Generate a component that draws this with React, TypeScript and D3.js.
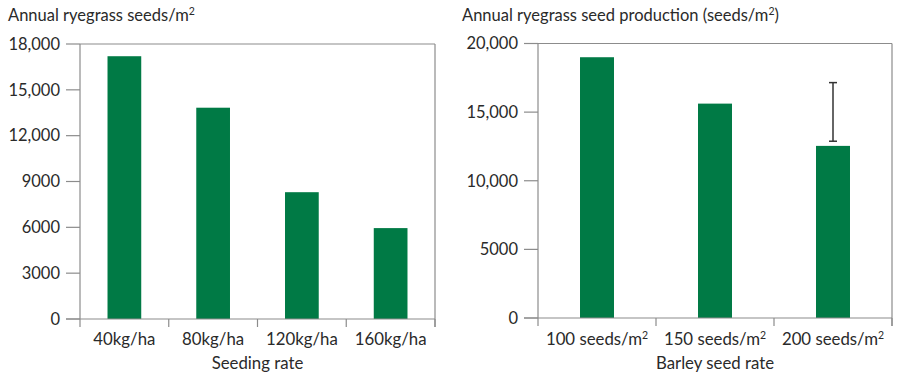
import React from "react";
import * as d3 from "d3";

const leftCategories = ["40kg/ha", "80kg/ha", "120kg/ha", "160kg/ha"];
const leftValues = [17200, 13830, 8300, 5950];
const leftTicks = [0, 3000, 6000, 9000, 12000, 15000, 18000];

const rightCategories = ["100 seeds/m", "150 seeds/m", "200 seeds/m"];
const rightValues = [19000, 15620, 12540];
const rightErrLow = [null, null, 12880];
const rightErrHigh = [null, null, 17150];
const rightTicks = [0, 5000, 10000, 15000, 20000];

const GREEN = "#007a45";
const AXIS = "#8c8c8c";
const TEXT = "#2a2a2a";
const FONT = "Lato, 'Open Sans', sans-serif";

const fmt = (v: number) => (v >= 10000 ? d3.format(",")(v) : String(v));

type PanelProps = {
  x0: number; x1: number; yTop: number; yZero: number; pad: number;
  categories: string[]; values: number[]; ticks: number[]; max: number;
  title: string; titleX: number; xLabel: string; sup: boolean;
  errLow?: (number | null)[]; errHigh?: (number | null)[];
};

function Panel(p: PanelProps) {
  const x = d3.scaleBand<string>().domain(p.categories).range([p.x0, p.x1]).paddingInner(p.pad).paddingOuter(p.pad / 2);
  const xb = d3.scaleBand<string>().domain(p.categories).range([p.x0, p.x1]);
  const y = d3.scaleLinear().domain([0, p.max]).range([p.yZero, p.yTop]);
  return (
    <g fontFamily={FONT} fill={TEXT}>
      <text x={p.titleX} y={21} fontSize={16.5}>
        {p.title}
        <tspan fontSize={10.5} dy={-6}>2</tspan>
        {p.sup ? <tspan dy={6}>)</tspan> : null}
      </text>
      {p.categories.map((c, i) => (
        <rect key={c} x={x(c)} width={x.bandwidth()} y={y(p.values[i])} height={y(0) - y(p.values[i])} fill={GREEN} />
      ))}
      {p.errLow && p.errHigh && p.categories.map((c, i) => {
        const lo = p.errLow![i], hi = p.errHigh![i];
        if (lo == null || hi == null) return null;
        const cx = (x(c) as number) + x.bandwidth() / 2;
        return (
          <g key={"e" + c} stroke="#333" strokeWidth={1.5}>
            <line x1={cx} x2={cx} y1={y(lo)} y2={y(hi)} />
            <line x1={cx - 4} x2={cx + 4} y1={y(lo)} y2={y(lo)} />
            <line x1={cx - 4} x2={cx + 4} y1={y(hi)} y2={y(hi)} />
          </g>
        );
      })}
      <g stroke={AXIS} strokeWidth={1.2} fill="none">
        <line x1={p.x0} x2={p.x1} y1={p.yTop} y2={p.yTop} />
        <line x1={p.x1} x2={p.x1} y1={p.yTop} y2={p.yZero + 8} />
        <line x1={p.x0} x2={p.x0} y1={p.yTop} y2={p.yZero + 8} />
        <line x1={p.x0 - 14} x2={p.x1} y1={p.yZero} y2={p.yZero} />
        {p.ticks.map((t) => (
          <line key={t} x1={p.x0 - 14} x2={p.x0} y1={y(t)} y2={y(t)} />
        ))}
        {p.categories.map((c) => (
          <line key={c} x1={(xb(c) as number) + xb.bandwidth()} x2={(xb(c) as number) + xb.bandwidth()} y1={p.yZero} y2={p.yZero + 8} />
        ))}
      </g>
      {p.ticks.map((t) => (
        <text key={t} x={p.x0 - 20} y={y(t)} dy="0.35em" textAnchor="end" fontSize={16.5}>{fmt(t)}</text>
      ))}
      {p.categories.map((c) => (
        <text key={c} x={(xb(c) as number) + xb.bandwidth() / 2} y={345} textAnchor="middle" fontSize={16.8}>
          {c}
          {p.sup ? <tspan fontSize={10.5} dy={-6}>2</tspan> : null}
        </text>
      ))}
      <text x={(p.x0 + p.x1) / 2} y={369} textAnchor="middle" fontSize={16.8}>{p.xLabel}</text>
    </g>
  );
}

export default function App() {
  return (
    <svg width={899} height={382} style={{ display: "block", position: "absolute", left: 0, top: 0, background: "#fff" }}>
      <Panel x0={80} x1={435} yTop={44} yZero={319} pad={0.62} categories={leftCategories} values={leftValues}
        ticks={leftTicks} max={18000} title="Annual ryegrass seeds/m" titleX={8} xLabel="Seeding rate" sup={false} />
      <Panel x0={538} x1={892} yTop={43.5} yZero={318} pad={0.712} categories={rightCategories} values={rightValues}
        ticks={rightTicks} max={20000} title="Annual ryegrass seed production (seeds/m" titleX={462} xLabel="Barley seed rate" sup={true}
        errLow={rightErrLow} errHigh={rightErrHigh} />
    </svg>
  );
}
